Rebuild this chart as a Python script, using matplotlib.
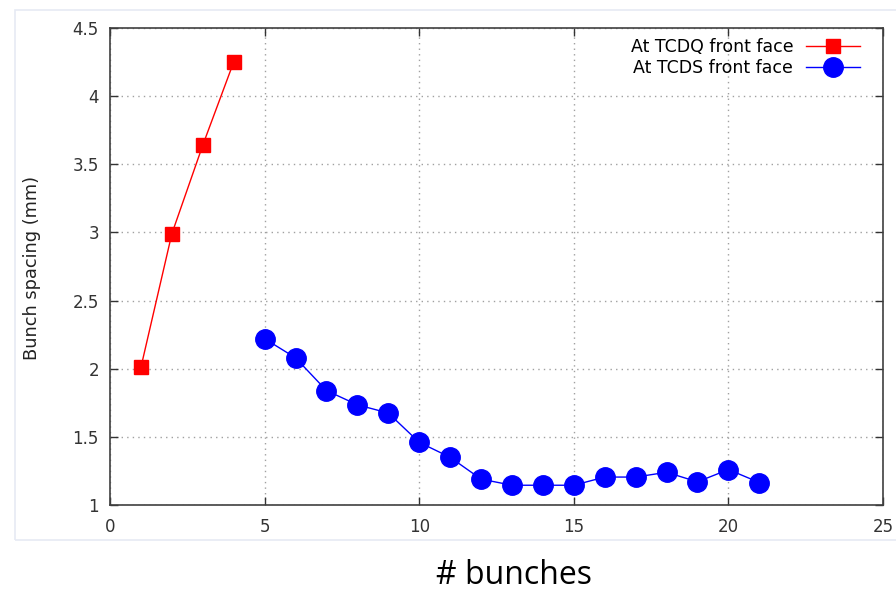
import matplotlib
matplotlib.use("Agg")
import matplotlib.pyplot as plt
from matplotlib.patches import Rectangle

tcdq_x = [1, 2, 3, 4]
tcdq_y = [2.01, 2.99, 3.64, 4.25]
tcds_x = [5, 6, 7, 8, 9, 10, 11, 12, 13, 14, 15, 16, 17, 18, 19, 20, 21]
tcds_y = [2.22, 2.08, 1.84, 1.735, 1.675, 1.46, 1.35, 1.19, 1.145, 1.145, 1.145,
          1.205, 1.205, 1.24, 1.17, 1.26, 1.165]
xticks = [0, 5, 10, 15, 20, 25]
yticks = [1, 1.5, 2, 2.5, 3, 3.5, 4, 4.5]
ytick_labels = ["1", "1.5", "2", "2.5", "3", "3.5", "4", "4.5"]

W, H = 896, 590
fig = plt.figure(figsize=(W / 100, H / 100), dpi=100)
fig.patches.append(Rectangle((15 / W, 50 / H), 1.2, 1 - 60 / H, transform=fig.transFigure,
                             fill=False, edgecolor="#e6eaf4", linewidth=1.2))
ax = fig.add_axes([110 / W, 1 - 505 / H, (883 - 110) / W, (505 - 28) / H])

ax.plot(tcdq_x, tcdq_y, color="#ff0000", lw=1.0, marker="s", ms=10,
        label="At TCDQ front face")
ax.plot(tcds_x, tcds_y, color="#0000ff", lw=1.0, marker="o", ms=14,
        label="At TCDS front face")

ax.set_xlim(0, 25)
ax.set_ylim(1, 4.5)
ax.set_xticks(xticks)
ax.set_yticks(yticks)
ax.set_yticklabels(ytick_labels)
ax.grid(True, color="#a0a0a0", linestyle=(0, (1, 3)), linewidth=1)
ax.tick_params(direction="in", top=True, right=True, length=6, width=1,
               labelsize=12, colors="#333333", pad=8)
ax.tick_params(axis="x", pad=9)
for s in ax.spines.values():
    s.set_color("#404040")
    s.set_linewidth(1.2)
ax.set_ylabel("Bunch spacing (mm)", fontsize=12.8, color="#222222")
ax.yaxis.set_label_coords((32 - 110) / (883 - 110), (505 - 268) / (505 - 28))
ax.yaxis.label.set_va("center")

leg = ax.legend(loc="upper right", frameon=False, fontsize=12.5, markerfirst=False,
                handlelength=3.1, borderaxespad=0, borderpad=0,
                labelspacing=0.2, handletextpad=0.75,
                bbox_to_anchor=((860 - 110) / (883 - 110), (505 - 38) / (505 - 28)))

fig.text(514 / W, 1 - 575 / H, "# bunches", fontsize=23, family="Open Sans",
         ha="center", va="center", color="black")

fig.savefig("out.png", dpi=100)
